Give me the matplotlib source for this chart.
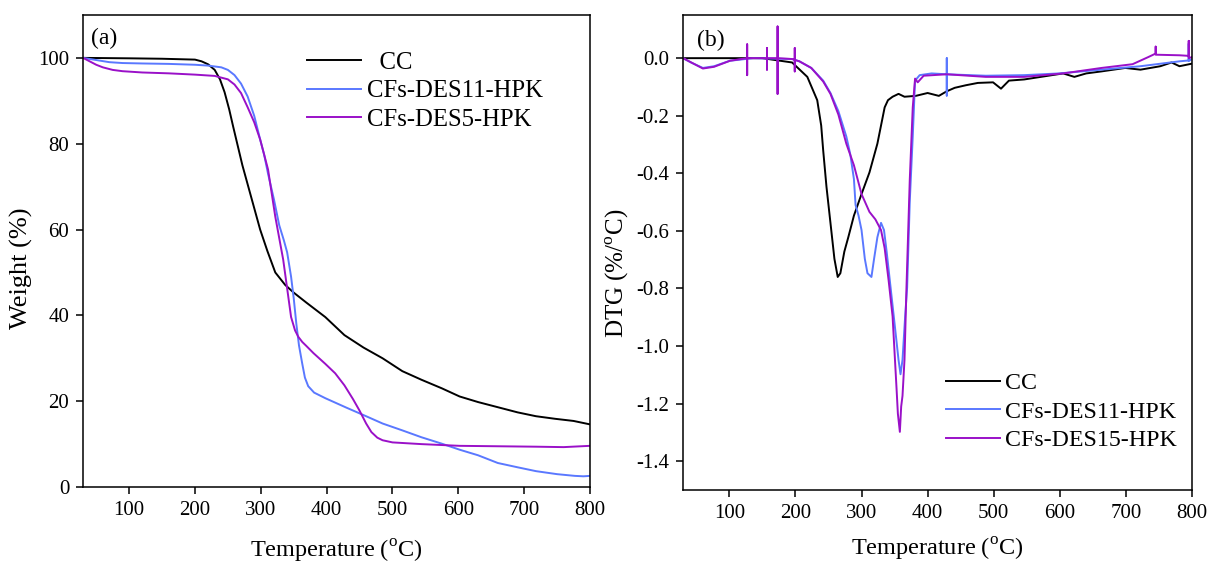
import matplotlib
matplotlib.use('Agg')
import matplotlib.pyplot as plt

matplotlib.rcParams['font.family'] = 'Liberation Serif'
matplotlib.rcParams['mathtext.fontset'] = 'custom'
matplotlib.rcParams['mathtext.rm'] = 'Liberation Serif'
matplotlib.rcParams['axes.unicode_minus'] = False

BLUE = '#5a78ff'
PURPLE = '#9a10c8'

# TGA (a)
tga_cc_t = [30, 100, 150, 200, 210, 220, 230, 238, 245, 252, 258, 265, 272, 281, 290, 299, 310, 322,
            337, 350, 369, 398, 427, 456, 485, 515, 544, 575, 602, 630, 660, 690, 718, 747, 775, 800]
tga_cc_w = [100, 99.9, 99.8, 99.6, 99.2, 98.5, 97.2, 95.0, 92.0, 88.0, 84.0, 79.5, 75.0, 70.0, 65.0, 60.0, 55.0, 50.0,
            47.1, 45.3, 43.0, 39.6, 35.4, 32.5, 30.0, 27.0, 25.0, 23.0, 21.1, 19.8, 18.6, 17.4, 16.5, 15.9, 15.4, 14.6]

tga_d11_t = [30, 50, 70, 90, 120, 160, 200, 220, 240, 250, 260, 270, 280, 290, 299, 305, 311, 320, 328, 335,
             340, 346, 350, 354, 358, 363, 367, 372, 381, 398, 430, 460, 485, 515, 544, 575, 602, 630, 660,
             690, 718, 750, 777, 790, 800]
tga_d11_w = [100, 99.5, 99.0, 98.8, 98.7, 98.6, 98.4, 98.2, 97.8, 97.2, 96.0, 94.0, 91.0, 86.5, 81.0, 77.5, 73.0, 67.0, 61.0, 57.5,
             54.7, 49.0, 44.0, 38.0, 33.0, 28.7, 25.5, 23.5, 22.0, 20.7, 18.5, 16.5, 14.8, 13.2, 11.6, 10.1, 8.7, 7.4, 5.6,
             4.6, 3.7, 3.0, 2.6, 2.5, 2.6]

tga_d5_t = [30, 40, 50, 60, 75, 90, 120, 160, 200, 230, 250, 260, 270, 280, 290, 299, 311, 322, 334, 340, 346,
            352, 357, 363, 369, 380, 398, 413, 427, 440, 450, 460, 468, 477, 485, 500, 544, 602, 660, 718, 760, 800]
tga_d5_w = [100, 99.2, 98.4, 97.8, 97.2, 96.9, 96.6, 96.4, 96.1, 95.8, 95.0, 93.8, 91.8, 88.5, 85.0, 81.0, 74.0, 63.0, 53.0, 46.3, 39.6,
            36.5, 35.0, 33.8, 32.9, 31.2, 28.7, 26.5, 23.7, 20.5, 17.8, 14.8, 12.8, 11.5, 10.9, 10.4, 10.0, 9.6, 9.5, 9.4, 9.3, 9.6]

# DTG (b)
dtg_cc_t = [30, 100, 150, 195, 218, 233, 239, 242, 247, 253, 259, 264, 268, 274, 280, 288.5, 300, 312, 318, 324,
            329.5, 335, 340, 347, 356, 365, 382, 400, 417, 429, 441, 458, 476, 499, 511, 523, 546, 605, 622, 640,
            663, 699, 722, 752, 769, 781, 800]
dtg_cc_d = [0, 0, 0, -0.015, -0.065, -0.146, -0.234, -0.32, -0.447, -0.572, -0.697, -0.76, -0.747, -0.672, -0.622, -0.547, -0.472, -0.397, -0.347, -0.297,
            -0.234, -0.171, -0.146, -0.134, -0.124, -0.134, -0.131, -0.121, -0.131, -0.115, -0.103, -0.094, -0.086, -0.084, -0.106, -0.078, -0.074, -0.053, -0.065, -0.053,
            -0.046, -0.034, -0.04, -0.028, -0.015, -0.028, -0.019]

dtg_d11_t = [30, 42, 60, 77, 101, 136, 195, 206, 224, 242, 253, 265, 277, 283, 288.5, 291, 295.5, 300, 305, 309,
             315, 319, 324, 329.5, 334, 338, 344, 350, 356, 359, 362, 366, 369, 373, 377.5, 381, 388, 406,
             429, 429, 429, 429, 488, 546, 599, 663, 722, 781, 795, 795, 795, 800]
dtg_d11_d = [0, -0.015, -0.034, -0.028, -0.009, 0, -0.003, -0.011, -0.034, -0.078, -0.121, -0.184, -0.272, -0.334, -0.42, -0.51, -0.547, -0.597, -0.697, -0.747,
             -0.76, -0.697, -0.622, -0.572, -0.597, -0.672, -0.797, -0.922, -1.048, -1.098, -1.048, -0.897, -0.797, -0.497, -0.272, -0.078, -0.059, -0.053,
             -0.056, 0.0, -0.13, -0.056, -0.061, -0.059, -0.053, -0.04, -0.028, -0.011, -0.008, 0.05, -0.01, -0.003]

dtg_d5_t = [30, 60, 77, 101, 127, 127, 127, 127, 136, 157, 157, 157, 157, 173, 173, 173, 173, 195, 199, 199, 199, 199,
            206, 224, 242, 253, 265, 277, 288.5, 300, 312, 321, 329.5, 335, 341, 347, 353, 355, 358, 360,
            362, 365, 368, 373, 377.5, 381, 385, 394, 429, 488, 546, 605, 663, 710, 734, 745, 745, 745, 781,
            795, 795, 795, 800]
dtg_d5_d = [0, -0.036, -0.03, -0.009, 0, 0.048, -0.059, 0, 0, 0, 0.035, -0.04, 0, 0, 0.11, -0.124, 0, -0.003, -0.005, 0.035, -0.046, -0.006,
            -0.011, -0.034, -0.081, -0.124, -0.196, -0.297, -0.372, -0.472, -0.534, -0.56, -0.597, -0.66, -0.772, -0.897, -1.148, -1.235, -1.298, -1.21,
            -1.173, -1.048, -0.797, -0.422, -0.171, -0.071, -0.084, -0.061, -0.056, -0.065, -0.065, -0.053, -0.034, -0.021, 0.004, 0.016, 0.04, 0.012, 0.01,
            0.008, 0.06, 0.0, 0.004]

x_ticks = [100, 200, 300, 400, 500, 600, 700, 800]
w_ticks = [0, 20, 40, 60, 80, 100]
d_ticks = [0.0, -0.2, -0.4, -0.6, -0.8, -1.0, -1.2, -1.4]

fig = plt.figure(figsize=(12.07, 5.65), dpi=100)
ax1 = fig.add_axes([0.0688, 0.138, 0.42, 0.8355])
ax2 = fig.add_axes([0.5659, 0.1327, 0.4217, 0.8408])

for ax in (ax1, ax2):
    for s in ax.spines.values():
        s.set_linewidth(1.1)
    ax.tick_params(direction='out', length=5, width=1.1, labelsize=15, pad=5, top=False, right=False)
    ax.set_xlim(30, 800)
    ax.set_xticks(x_ticks)

lw = 1.4
ax1.plot(tga_cc_t, tga_cc_w, color='black', lw=lw, label='  CC')
ax1.plot(tga_d11_t, tga_d11_w, color=BLUE, lw=lw, label='CFs-DES11-HPK')
ax1.plot(tga_d5_t, tga_d5_w, color=PURPLE, lw=lw, label='CFs-DES5-HPK')
ax1.set_ylim(0, 110)
ax1.set_yticks(w_ticks)
ax1.set_xlabel(r'Temperature ($^{\rm o}$C)', fontsize=17.5, labelpad=13)
ax1.set_ylabel('Weight (%)', fontsize=19)
ax1.yaxis.set_label_coords(-0.099, 0.464)
ax1.text(0.015, 0.951, '(a)', transform=ax1.transAxes, fontsize=17, va='center', ha='left')
ax1.legend(loc='upper left', bbox_to_anchor=(0.442, 0.922), frameon=False, fontsize=17.8,
           handlelength=2.2, handletextpad=0.24, labelspacing=0.24, borderpad=0, borderaxespad=0)

ax2.plot(dtg_cc_t, dtg_cc_d, color='black', lw=lw, label='CC')
ax2.plot(dtg_d11_t, dtg_d11_d, color=BLUE, lw=lw, label='CFs-DES11-HPK')
ax2.plot(dtg_d5_t, dtg_d5_d, color=PURPLE, lw=lw, label='CFs-DES15-HPK')
ax2.set_ylim(-1.5, 0.15)
ax2.set_yticks(d_ticks)
ax2.set_yticklabels(['%.1f' % v for v in d_ticks])
ax2.set_xlabel(r'Temperature ($^{\rm o}$C)', fontsize=17.5, labelpad=9)
ax2.set_ylabel(r'DTG (%/$^{\rm o}$C)', fontsize=18)
ax2.yaxis.set_label_coords(-0.102, 0.457)
ax2.text(0.027, 0.947, '(b)', transform=ax2.transAxes, fontsize=17, va='center', ha='left')
ax2.legend(loc='upper left', bbox_to_anchor=(0.517, 0.247), frameon=False, fontsize=17.2,
           handlelength=2.25, handletextpad=0.2, labelspacing=0.28, borderpad=0, borderaxespad=0)

fig.savefig('out.png', dpi=100)
